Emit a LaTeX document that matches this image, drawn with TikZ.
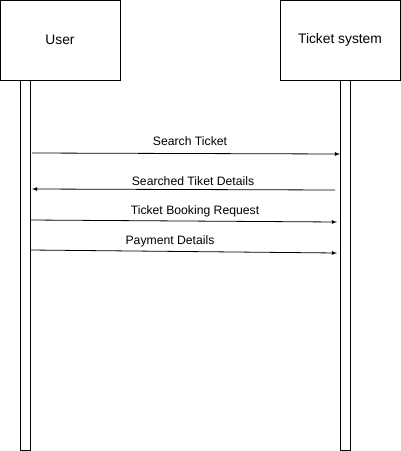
\documentclass[tikz,border=0pt]{standalone}
\usepackage{fontspec}
\setmainfont{Liberation Sans}
\usepackage{tikz}
\usetikzlibrary{arrows}

\begin{document}
\begin{tikzpicture}[x=1pt,y=-1pt,
    actor/.style={draw,line width=0.9pt,minimum width=120pt,minimum height=80pt,inner sep=0pt,font=\fontsize{13.8}{16}\selectfont},
    lifebar/.style={draw,line width=0.9pt,minimum width=10pt,minimum height=370pt,inner sep=0pt},
    msg/.style={-latex,line width=0.8pt},
    msglabel/.style={font=\fontsize{12.2}{14}\selectfont,inner sep=0pt}]
    \useasboundingbox (0,0) rectangle (401,451);
    \node[actor] (user) at (60,40) {User};
    \node[actor] (system) at (340,40) {Ticket system};
    \node[lifebar] (userbar) at (25,265) {};
    \node[lifebar] (systembar) at (345,265) {};
    % message end points
    \coordinate (a1) at (32,153);
    \coordinate (b1) at (340,154);
    \coordinate (b2) at (335,190);
    \coordinate (a2) at (32,189);
    \coordinate (a3) at (30,220);
    \coordinate (b3) at (337,222);
    \coordinate (a4) at (30,250);
    \coordinate (b4) at (337,253);
    \draw[msg] (a1) -- (b1);
    \draw[msg] (b2) -- (a2);
    \draw[msg] (a3) -- (b3);
    \draw[msg] (a4) -- (b4);
    \node[msglabel] (l1) at (190,141) {Search Ticket};
    \node[msglabel] (l2) at (193,181) {Searched Tiket Details};
    \node[msglabel] (l3) at (195,211) {Ticket Booking Request};
    \node[msglabel] (l4) at (170,241) {Payment Details};
\end{tikzpicture}
\end{document}
